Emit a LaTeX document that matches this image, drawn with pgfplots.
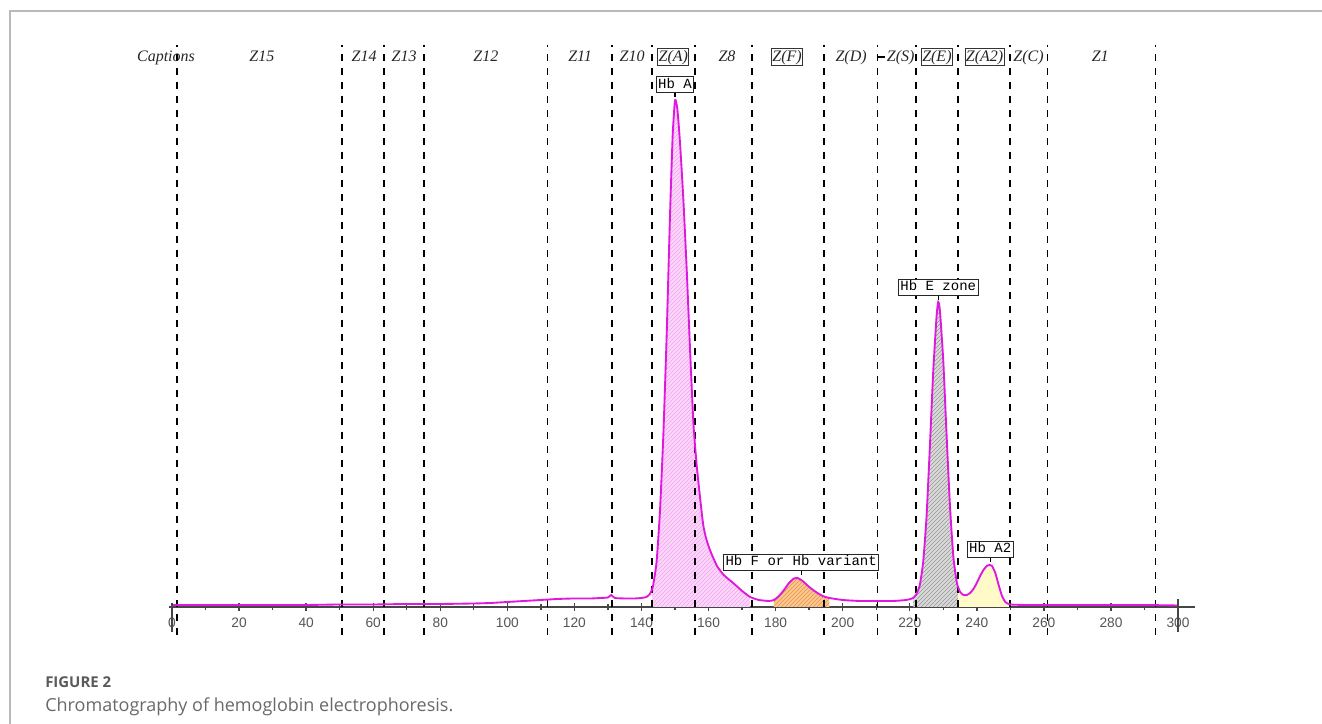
\documentclass[border=0pt]{standalone}
\usepackage{pgfplots}
\pgfplotsset{compat=1.18}
\usepackage{pgfplotstable}
\usetikzlibrary{patterns}
\usepackage{fontspec}
\setmainfont{Liberation Serif}
\newfontfamily\monof{Liberation Mono}
\newfontfamily\sansf{Liberation Sans}
\newfontfamily\capf{Open Sans}
\definecolor{curvecol}{RGB}{222,24,222}
\definecolor{pinkfill}{RGB}{252,215,250}
\definecolor{pinkline}{RGB}{240,165,238}
\definecolor{orangefill}{RGB}{250,200,145}
\definecolor{orangeline}{RGB}{235,145,70}
\definecolor{greyfill}{RGB}{218,218,218}
\definecolor{greyline}{RGB}{150,150,150}
\definecolor{yellowfill}{RGB}{255,250,200}
\definecolor{framegrey}{RGB}{185,185,185}
\definecolor{axisgrey}{RGB}{70,70,70}
\definecolor{ticklab}{RGB}{85,85,85}
\definecolor{capgrey}{RGB}{90,90,90}
\definecolor{capgreyb}{RGB}{105,105,105}

\pgfplotstableread{
x y
0 2
5 2
10 2
20 2
30 2
40 2
50 2.5
60 2.5
70 3
80 3
90 3.5
95 4
100 5
105 6
110 7
115 8
120 8.5
125 8.5
128 9
130 9.5
131 12
132 9
135 8.5
138 8.5
140 9
141.5 10
142.5 13
143.2 18
143.5 22
144.5 45
145.5 95
146.5 170
147.5 270
148.5 390
149.3 470
150 505
150.7 496
151.5 462
152.5 405
153.5 335
154.5 255
155.5 182
156.5 140
157.5 108
158.4 82
159.3 68
160.5 56
162.5 41
164.5 32
167.3 24
170 16
172.4 10
175 7
178 6
179.5 7
181 11
182.5 17
184 24
185.5 28.5
186.5 29
188 26
190 20
192 15
194 11
196 9
200 7
205 6
210 6
215 6
219 7
221 9
222 13
223 22
224 45
225 90
226 160
227 235
228 290
228.5 304
229 295
230 245
231 170
232 100
233 50
234 25
234.4 20
235 15
236 12
237 12
238 14
239 18
240 24
241 31
242 37
243 41
243.8 42
244.5 41
245.5 34
246.5 22
247.5 11
248.5 5
250 2.5
255 2
260 2
270 2
280 2
290 2
300 1.5
}\curvedata

\tikzset{
 zlab/.style={font=\itshape\fontsize{12}{14}\selectfont, inner sep=0pt, anchor=base, text=black!85},
 zbox/.style={font=\itshape\fontsize{12}{14}\selectfont, draw=black!80, line width=0.7pt, inner sep=0.6pt, text height=9pt, text depth=2.5pt, anchor=base, fill=white, text=black!85},
 hbbox/.style={font=\monof\fontsize{10.5}{12}\selectfont, draw=black!85, line width=0.7pt, inner xsep=1.5pt, inner ysep=1.2pt, text height=7.6pt, text depth=2pt, anchor=base, fill=white},
 zone/.style={black, line width=1.1pt, dash pattern=on 5pt off 5.5pt},
 zonebold/.style={black, line width=1.8pt, dash pattern=on 5pt off 5.5pt},
}

\begin{document}
\begin{tikzpicture}
\path[use as bounding box] (0pt,0pt) rectangle (991.5pt,543pt);
\draw[framegrey, line width=1.1pt] (7.5pt,0pt) -- (7.5pt,534.75pt) -- (991.5pt,534.75pt);
\node[anchor=base west, inner sep=0pt, font=\capf\bfseries\fontsize{11.2}{12}\selectfont, text=capgrey] at (33.75pt,27pt) {FIGURE 2};
\node[anchor=base west, inner sep=0pt, font=\capf\fontsize{13.5}{15}\selectfont, text=capgreyb] at (33.75pt,9pt) {Chromatography of hemoglobin electrophoresis.};
\begin{axis}[
 at={(126.5pt,87.75pt)}, anchor=south west,
 scale only axis, width=769.6pt, height=421.5pt,
 xmin=-1, xmax=305, ymin=0, ymax=560,
 axis x line=bottom, axis y line=none,
 x axis line style={-, line width=1.2pt, color=axisgrey},
 xtick={0,20,...,300}, minor xtick={10,30,...,290},
 tick align=center,
 major tick length=6pt, minor tick length=4.5pt,
 every tick/.style={axisgrey, line width=1pt},
 /pgf/number format/assume math mode=true,
 xticklabel style={font=\sansf\fontsize{10.3}{12}\selectfont, text=ticklab, yshift=-1.5pt},
 clip=false,
]
\addplot[fill=pinkfill, draw=none, smooth, tension=0.35, restrict x to domain=143.2:172.5] table[x=x,y=y] {\curvedata} \closedcycle;
\addplot[pattern=north east lines, pattern color=pinkline, draw=none, smooth, tension=0.35, restrict x to domain=143.2:172.5] table[x=x,y=y] {\curvedata} \closedcycle;
\addplot[fill=orangefill, draw=none, smooth, tension=0.35, restrict x to domain=179.5:196] table[x=x,y=y] {\curvedata} \closedcycle;
\addplot[pattern=north east lines, pattern color=orangeline, draw=none, smooth, tension=0.35, restrict x to domain=179.5:196] table[x=x,y=y] {\curvedata} \closedcycle;
\addplot[fill=greyfill, draw=none, smooth, tension=0.35, restrict x to domain=221:234.4] table[x=x,y=y] {\curvedata} \closedcycle;
\addplot[pattern=north east lines, pattern color=greyline, draw=none, smooth, tension=0.35, restrict x to domain=221:234.4] table[x=x,y=y] {\curvedata} \closedcycle;
\addplot[fill=yellowfill, draw=none, smooth, tension=0.35, restrict x to domain=234.4:250] table[x=x,y=y] {\curvedata} \closedcycle;
\draw[zone] (axis cs:1.5,-28) -- (axis cs:1.5,560);
\draw[zone] (axis cs:50.7,-28) -- (axis cs:50.7,560);
\draw[zone] (axis cs:63.2,-28) -- (axis cs:63.2,560);
\draw[zone] (axis cs:75.2,-28) -- (axis cs:75.2,560);
\draw[zone] (axis cs:111.9,-28) -- (axis cs:111.9,560);
\draw[zone] (axis cs:131.2,-28) -- (axis cs:131.2,560);
\draw[zone] (axis cs:143.2,-28) -- (axis cs:143.2,560);
\draw[zonebold] (axis cs:156.0,-28) -- (axis cs:156.0,560);
\draw[zone] (axis cs:173.0,-28) -- (axis cs:173.0,560);
\draw[zonebold] (axis cs:194.5,-28) -- (axis cs:194.5,560);
\draw[zone] (axis cs:210.3,-28) -- (axis cs:210.3,560);
\draw[zone] (axis cs:221.9,-28) -- (axis cs:221.9,560);
\draw[zone] (axis cs:234.4,-28) -- (axis cs:234.4,560);
\draw[zonebold] (axis cs:249.9,-28) -- (axis cs:249.9,560);
\draw[zone] (axis cs:261.0,-28) -- (axis cs:261.0,560);
\draw[zone] (axis cs:293.2,-28) -- (axis cs:293.2,560);
\addplot[curvecol, line width=1.4pt, smooth, tension=0.35] table[x=x,y=y] {\curvedata};
\draw[axisgrey, line width=1.2pt] (axis cs:0,4) -- (axis cs:0,-25);
\draw[axisgrey, line width=1.2pt] (axis cs:300,8) -- (axis cs:300,-25);
\node[zlab] at (axis cs:-1.8,544) {Captions};
\node[zlab] at (axis cs:26.8,544) {Z15};
\node[zlab] at (axis cs:57.3,544) {Z14};
\node[zlab] at (axis cs:69.2,544) {Z13};
\node[zlab] at (axis cs:93.6,544) {Z12};
\node[zlab] at (axis cs:121.7,544) {Z11};
\node[zlab] at (axis cs:137.2,544) {Z10};
\node[zbox] at (axis cs:149.5,544) {Z(A)};
\node[zlab] at (axis cs:165.5,544) {Z8};
\node[zbox] at (axis cs:183.4,544) {Z(F)};
\node[zlab] at (axis cs:202.5,544) {Z(D)};
\node[zlab] at (axis cs:217.3,544) {Z(S)};
\draw[black, line width=0.9pt] (axis cs:210.3,548) -- (axis cs:212.6,548);
\node[zbox] at (axis cs:228.1,544) {Z(E)};
\node[zbox] at (axis cs:242.3,544) {Z(A2)};
\node[zlab] at (axis cs:255.4,544) {Z(C)};
\node[zlab] at (axis cs:276.8,544) {Z1};
\node[hbbox] (hba) at (axis cs:150,517) {Hb A};
\draw[black, line width=0.8pt] (hba.south) -- ++(0pt,-3pt);
\node[hbbox] (hbe) at (axis cs:228.5,315) {Hb E zone};
\draw[black, line width=0.8pt] (hbe.south) -- ++(0pt,-3pt);
\node[hbbox] (hbf) at (axis cs:187.6,41) {Hb F or Hb variant};
\draw[black, line width=0.8pt] (hbf.south) -- ++(0pt,-3pt);
\node[hbbox] (hba2) at (axis cs:244,54) {Hb A2};
\draw[black, line width=0.8pt] (hba2.south) -- ++(0pt,-3pt);
\end{axis}
\end{tikzpicture}
\end{document}
